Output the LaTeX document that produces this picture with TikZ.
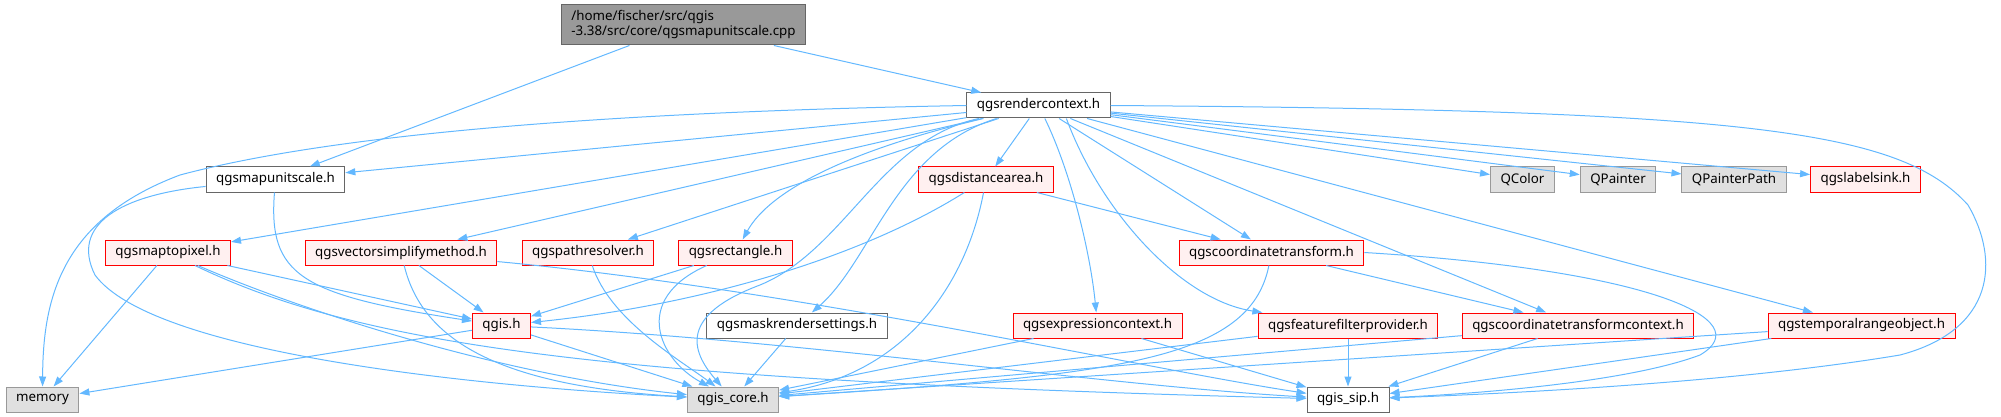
\documentclass[tikz,border=0pt]{standalone}
\usepackage{fontspec}
\setmainfont{Noto Sans}
\usetikzlibrary{arrows.meta,positioning}

\definecolor{edgeblue}{HTML}{63B8FF}
\definecolor{docline}{HTML}{666666}
\definecolor{extline}{HTML}{999999}
\definecolor{extfill}{HTML}{E0E0E0}
\definecolor{redfill}{HTML}{FFF0F0}

\begin{document}
\begin{tikzpicture}[
        x=0.75pt, y=-0.75pt,
        font=\fontsize{10}{11.25}\selectfont,
        >={Triangle[length=7.5pt, width=5.25pt]},
        % Block styles
        incbox/.style={
            rectangle,
            draw=#1,
            line width=0.75pt,
            minimum height=18.75pt,
            inner xsep=7.5pt,
            inner ysep=0pt
        },
        docfile/.style={incbox=docline, fill=white},
        redfile/.style={incbox=red, fill=redfill},
        extfile/.style={incbox=extline, fill=extfill},
        rootfile/.style={incbox=docline, fill=extline, minimum height=30pt, align=left},
        dep/.style={->, draw=edgeblue, line width=0.75pt}
    ]

    \useasboundingbox (0,0) rectangle (2001,417);

    % Source file
    \node[rootfile] (root) at (683.5,25) {/home/fischer/src/qgis\\-3.38/src/core/qgsmapunitscale.cpp};

    % First level
    \node[docfile] (rctx) at (1038.5,105.5) {qgsrendercontext.h};
    \node[docfile] (msc) at (275.5,179.5) {qgsmapunitscale.h};
    \node[redfile] (dist) at (986,179.5) {qgsdistancearea.h};
    \node[extfile] (qcolor) at (1522.5,179.5) {QColor};
    \node[extfile] (qpainter) at (1618,179.5) {QPainter};
    \node[extfile] (qpath) at (1734,179.5) {QPainterPath};
    \node[redfile] (lsink) at (1865.5,179.5) {qgslabelsink.h};

    % Second level
    \node[redfile] (m2p) at (168,252.5) {qgsmaptopixel.h};
    \node[redfile] (vsm) at (401,252.5) {qgsvectorsimplifymethod.h};
    \node[redfile] (pres) at (588,252.5) {qgspathresolver.h};
    \node[redfile] (rect) at (735.5,252.5) {qgsrectangle.h};
    \node[redfile] (ct) at (1271.5,252.5) {qgscoordinatetransform.h};

    % Third level
    \node[redfile] (qgis) at (501.5,325.5) {qgis.h};
    \node[docfile] (mask) at (797,325.5) {qgsmaskrendersettings.h};
    \node[redfile] (expr) at (1097.5,325.5) {qgsexpressioncontext.h};
    \node[redfile] (ffp) at (1348,325.5) {qgsfeaturefilterprovider.h};
    \node[redfile] (ctx) at (1578,325.5) {qgscoordinatetransformcontext.h};
    \node[redfile] (trange) at (1861.5,325.5) {qgstemporalrangeobject.h};

    % Bottom level
    \node[extfile] (mem) at (42.5,399.5) {memory};
    \node[extfile] (core) at (733,399.5) {qgis\_core.h};
    \node[docfile] (sip) at (1348,399.5) {qgis\_sip.h};

    % Connections
    \draw[dep] (root) -- (msc);
    \draw[dep] (root) -- (rctx);

    \draw[dep] (rctx) -- (msc);
    \draw[dep] (rctx.west) .. controls (600,112) and (330,135) .. (180,175) .. controls (60,220) and (43,300) .. (mem);
    \draw[dep] (rctx) -- (m2p);
    \draw[dep] (rctx) -- (vsm);
    \draw[dep] (rctx) -- (pres);
    \draw[dep] (rctx) .. controls (850,150) and (770,190) .. (rect);
    \draw[dep] (rctx) .. controls (880,140) and (845,250) .. (760,285) .. controls (680,315) and (690,350) .. (core);
    \draw[dep] (rctx) .. controls (895,150) and (872,260) .. (mask);
    \draw[dep] (rctx) -- (dist);
    \draw[dep] (rctx) .. controls (1070,170) and (1090,250) .. (expr);
    \draw[dep] (rctx.-25) .. controls (1100,210) and (1180,300) .. (ffp);
    \draw[dep] (rctx) -- (ct);
    \draw[dep] (rctx) -- (ctx);
    \draw[dep] (rctx) -- (trange);
    \draw[dep] (rctx) -- (qcolor);
    \draw[dep] (rctx) -- (qpainter);
    \draw[dep] (rctx) -- (qpath);
    \draw[dep] (rctx) -- (lsink);
    \draw[dep] (rctx.east) .. controls (1750,110) and (1900,130) .. (1968,205) .. controls (2000,260) and (1995,330) .. (1900,355) .. controls (1750,380) and (1550,392) .. (sip);

    \draw[dep] (msc) .. controls (120,195) and (70,225) .. (95,275) .. controls (150,350) and (450,385) .. (core);
    \draw[dep] (msc) .. controls (268,275) and (300,295) .. (qgis);

    \draw[dep] (m2p) -- (mem);
    \draw[dep] (m2p) -- (qgis);
    \draw[dep] (m2p) .. controls (300,310) and (500,375) .. (core);
    \draw[dep] (m2p) .. controls (360,345) and (600,380) .. (sip);

    \draw[dep] (vsm) -- (qgis);
    \draw[dep] (vsm) .. controls (420,330) and (480,385) .. (core);
    \draw[dep] (vsm) .. controls (800,290) and (1150,370) .. (sip);

    \draw[dep] (pres) .. controls (610,320) and (680,360) .. (core);

    \draw[dep] (rect) -- (qgis);
    \draw[dep] (rect) .. controls (630,300) and (660,360) .. (core);

    \draw[dep] (dist.211) .. controls (860,258) and (700,305) .. (qgis);
    \draw[dep] (dist) .. controls (965,290) and (900,375) .. (core);
    \draw[dep] (dist) -- (ct);

    \draw[dep] (mask) -- (core);
    \draw[dep] (expr) -- (core);
    \draw[dep] (expr) -- (sip);
    \draw[dep] (ffp) -- (sip);
    \draw[dep] (ffp) -- (core);

    \draw[dep] (ct) .. controls (1250,360) and (1120,375) .. (core);
    \draw[dep] (ct) -- (ctx);
    \draw[dep] (ct.east) .. controls (1650,270) and (1760,320) .. (1700,355) .. controls (1620,385) and (1450,395) .. (sip);

    \draw[dep] (ctx) -- (core);
    \draw[dep] (ctx) -- (sip);
    \draw[dep] (trange) -- (core);
    \draw[dep] (trange) -- (sip);

    \draw[dep] (qgis) -- (mem);
    \draw[dep] (qgis) -- (core);
    \draw[dep] (qgis) .. controls (800,340) and (1100,385) .. (sip);

\end{tikzpicture}
\end{document}
